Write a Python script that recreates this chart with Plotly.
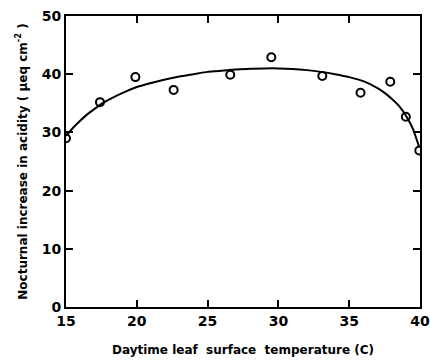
import plotly.graph_objects as go

# Observed data points
temp_obs = [15.0, 17.4, 19.9, 22.6, 26.6, 29.5, 33.1, 35.8, 37.9, 39.0, 39.95]
acid_obs = [29.0, 35.2, 39.5, 37.3, 39.9, 42.9, 39.7, 36.8, 38.7, 32.7, 26.9]

# Fitted curve
temp_fit = [15.0, 15.5, 16.0, 16.5, 17.0, 17.5, 18.0, 19.0, 20.0, 21.0, 22.0, 23.0, 24.0, 25.0,
            26.0, 27.0, 28.0, 29.0, 30.0, 31.0, 32.0, 33.0, 34.0, 35.0, 36.0, 37.0, 37.5,
            38.0, 38.5, 39.0, 39.5, 39.95]
acid_fit = [29.4, 30.8, 32.0, 33.1, 34.0, 34.9, 35.6, 36.8, 37.8, 38.5, 39.1, 39.6, 40.0, 40.4,
            40.6, 40.8, 40.95, 41.0, 41.0, 40.9, 40.7, 40.4, 40.0, 39.5, 38.8, 37.6, 36.8,
            35.8, 34.6, 32.9, 30.6, 27.4]

x_ticks = [15, 20, 25, 30, 35, 40]
y_ticks = [0, 10, 20, 30, 40, 50]

fig = go.Figure()
fig.add_trace(go.Scatter(x=temp_fit, y=acid_fit, mode="lines",
                         line=dict(color="black", width=2, shape="spline", smoothing=0.5),
                         hoverinfo="skip", showlegend=False))
fig.add_trace(go.Scatter(x=temp_obs, y=acid_obs, mode="markers",
                         marker=dict(symbol="circle-open", size=8, color="black",
                                     line=dict(width=2, color="black")),
                         showlegend=False))

font = dict(family="DejaVu Sans", color="black")
fig.update_layout(
    width=430, height=360,
    margin=dict(l=66, r=10, t=16, b=53),
    paper_bgcolor="white", plot_bgcolor="white",
    font=font,
    xaxis=dict(range=[15, 40], tickvals=x_ticks, ticktext=[f"<b>{v}</b>" for v in x_ticks],
               tickfont=dict(size=14, family="DejaVu Sans", color="black"),
               ticklabeloverflow="allow",
               ticks="inside", ticklen=7, tickwidth=1.5, tickcolor="black",
               showline=True, linecolor="black", linewidth=2, mirror="ticks",
               showgrid=False, zeroline=False, automargin=False,
               title=dict(text="<b>Daytime leaf  surface  temperature (C)</b>",
                          font=dict(size=12, family="DejaVu Sans", color="black"), standoff=18)),
    yaxis=dict(range=[0, 50], tickvals=y_ticks, ticktext=[f"<b>{v}</b>" for v in y_ticks],
               tickfont=dict(size=14, family="DejaVu Sans", color="black"),
               ticks="inside", ticklen=7, tickwidth=1.5, tickcolor="black",
               showline=True, linecolor="black", linewidth=2, mirror="ticks",
               showgrid=False, zeroline=False, automargin=False,
               title=dict(text="<b>Nocturnal increase in acidity ( μeq cm<sup>-2</sup> )</b>",
                          font=dict(size=12, family="DejaVu Sans", color="black"), standoff=12)),
)

fig.write_html("out.html")
